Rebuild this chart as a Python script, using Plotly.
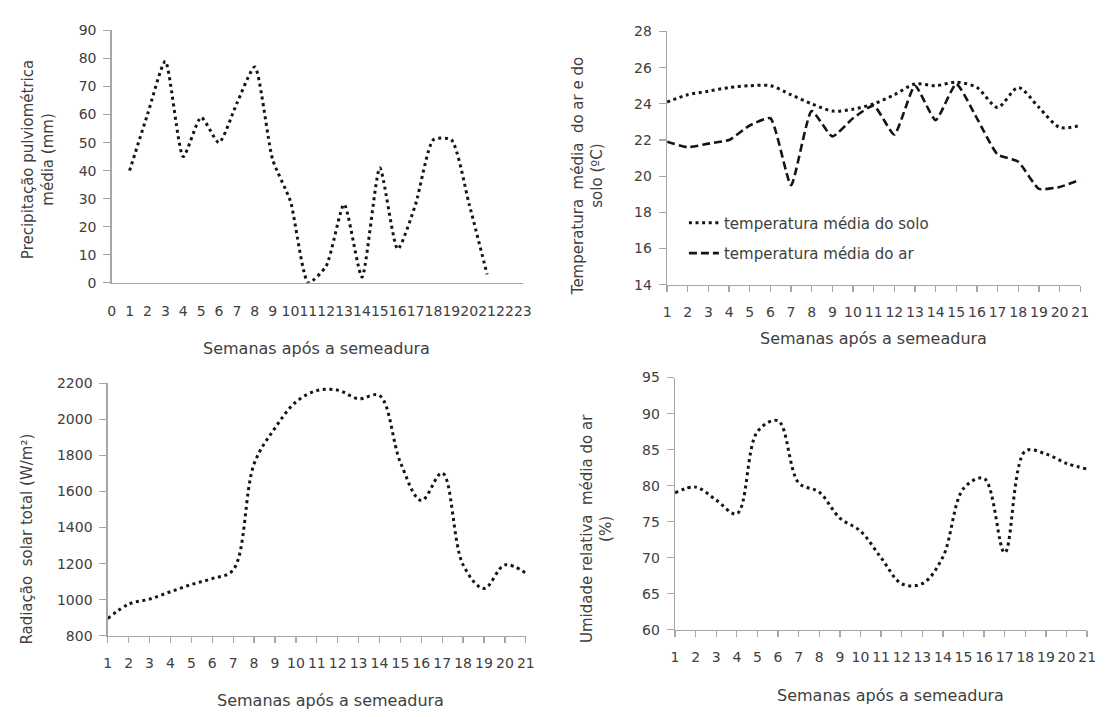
import plotly.graph_objects as go

W, H = 1107, 717

# ---------------- data ----------------
weeks = list(range(1, 22))
precip = [40, 60, 79, 45, 59, 50, 64, 77, 44, 29, 0, 6, 28, 2, 41, 12, 28, 51, 51, 28, 3]
precip_ticks = list(range(0, 24))

temp_solo = [24.1, 24.5, 24.7, 24.9, 25.0, 25.0, 24.5, 24.0, 23.6, 23.7, 24.0,
             24.5, 25.1, 25.0, 25.2, 24.9, 23.8, 24.9, 23.8, 22.7, 22.8]
temp_ar = [21.9, 21.6, 21.8, 22.0, 22.8, 23.2, 19.5, 23.6, 22.2, 23.2, 23.9,
           22.3, 25.0, 23.1, 25.1, 23.2, 21.2, 20.8, 19.3, 19.4, 19.8]

radiacao = [895, 975, 1003, 1044, 1084, 1117, 1165, 1753, 1952, 2097, 2160,
            2163, 2115, 2133, 1762, 1550, 1703, 1193, 1062, 1193, 1147]

umidade = [79.0, 79.8, 78.0, 76.1, 87.5, 89.0, 80.4, 79.1, 75.5, 73.7, 70.0,
           66.4, 66.4, 70.1, 79.6, 81.0, 70.7, 84.8, 84.4, 83.1, 82.3]

xtitle = "Semanas após a semeadura"

# ---------------- style ----------------
FONT = "DejaVu Sans"
TXT = "#404040"
AXC = "#a6a6a6"
LINE = "#151515"
DOT = "3px,3.6px"
DASH = "8px,4px"


def px_x(a, b):
    return [a / W, b / W]


def px_y(top, bottom):
    return [1 - bottom / H, 1 - top / H]


fig = go.Figure()

fig.add_trace(go.Scatter(x=weeks, y=precip, mode="lines", xaxis="x", yaxis="y",
                         line=dict(color=LINE, width=3, dash=DOT, shape="spline", smoothing=0.6),
                         showlegend=False))
fig.add_trace(go.Scatter(x=weeks, y=temp_solo, mode="lines", xaxis="x2", yaxis="y2",
                         name="temperatura média do solo", legend="legend",
                         line=dict(color=LINE, width=3, dash=DOT, shape="spline", smoothing=0.8)))
fig.add_trace(go.Scatter(x=weeks, y=temp_ar, mode="lines", xaxis="x2", yaxis="y2",
                         name="temperatura média do ar", legend="legend2",
                         line=dict(color=LINE, width=2.6, dash=DASH, shape="spline", smoothing=0.5)))
fig.add_trace(go.Scatter(x=weeks, y=radiacao, mode="lines", xaxis="x3", yaxis="y3",
                         line=dict(color=LINE, width=3, dash=DOT, shape="spline", smoothing=1.0),
                         showlegend=False))
fig.add_trace(go.Scatter(x=weeks, y=umidade, mode="lines", xaxis="x4", yaxis="y4",
                         line=dict(color=LINE, width=3, dash=DOT, shape="spline", smoothing=1.0),
                         showlegend=False))

tickfont = dict(family=FONT, size=14, color=TXT)


def xax(domain, anchor, rng, ticks, tickvals, standoff):
    return dict(domain=domain, anchor=anchor, range=rng, tickmode="array", tickvals=tickvals,
                ticktext=[str(v) for v in tickvals], showgrid=False, zeroline=False,
                showline=True, linecolor=AXC, linewidth=1.4, ticks=ticks, ticklen=6,
                tickcolor=AXC, tickwidth=1.3, tickangle=0, tickfont=tickfont,
                ticklabelstandoff=standoff, fixedrange=True)


def yax(domain, anchor, rng, dtick):
    return dict(domain=domain, anchor=anchor, range=rng, dtick=dtick, tick0=rng[0],
                showgrid=False, zeroline=False, showline=True, linecolor=AXC, linewidth=1.4,
                ticks="outside", ticklen=7, tickcolor=AXC, tickwidth=1.3, tickfont=tickfont,
                ticklabelstandoff=4, fixedrange=True)


fig.update_layout(
    width=W, height=H,
    margin=dict(l=0, r=0, t=0, b=0),
    paper_bgcolor="white", plot_bgcolor="white",
    font=dict(family=FONT, color=TXT),
    xaxis=xax(px_x(109, 525), "y", [0, 23], "", precip_ticks, 15),
    yaxis=yax(px_y(23, 281), "x", [0, 90], 10),
    xaxis2=xax(px_x(671, 1089), "y2", [1, 21], "outside", weeks, 8),
    yaxis2=yax(px_y(24, 283), "x2", [14, 28], 2),
    xaxis3=xax(px_x(105, 528), "y3", [1, 21], "outside", weeks, 8),
    yaxis3=yax(px_y(384, 642), "x3", [800, 2200], 200),
    xaxis4=xax(px_x(679, 1096), "y4", [1, 21], "outside", weeks, 8),
    yaxis4=yax(px_y(378, 636), "x4", [60, 95], 5),
    legend=dict(x=688 / W, y=1 - 220 / H, xanchor="left", yanchor="middle",
                bgcolor="rgba(0,0,0,0)", itemwidth=30,
                font=dict(family=FONT, size=15, color=TXT)),
    legend2=dict(x=688 / W, y=1 - 251 / H, xanchor="left", yanchor="middle",
                 bgcolor="rgba(0,0,0,0)", itemwidth=30,
                 font=dict(family=FONT, size=15, color=TXT)),
)

ann = []


def add_text(text, xpx, ypx, angle=0, size=15):
    ann.append(dict(text=text, x=xpx / W, y=1 - ypx / H, xref="paper", yref="paper",
                    showarrow=False, textangle=angle, xanchor="center", yanchor="middle",
                    font=dict(family=FONT, size=size, color=TXT)))


# x-axis titles
add_text(xtitle, 316, 348, size=16)
add_text(xtitle, 880, 338, size=16)
add_text(xtitle, 330, 708, size=16)
add_text(xtitle, 897, 703, size=16)
# y-axis titles
add_text("Precipitação pulviométrica<br>média (mm)", 34, 155, angle=-90)
add_text("Temperatura  média  do ar e do<br>solo (ºC)", 591, 172, angle=-90)
add_text("Radiação  solar total (W/m²)", 23, 543, angle=-90)
add_text("Umidade relativa  média do ar<br>(%)", 600, 532, angle=-90)

fig.update_layout(annotations=ann)

# remove the browser's default page margin so the figure sits at (0, 0)
fig.write_html("out.html",
               config={"displayModeBar": False, "staticPlot": True},
               post_script="document.body.style.margin='0';document.body.style.overflow='hidden';")
